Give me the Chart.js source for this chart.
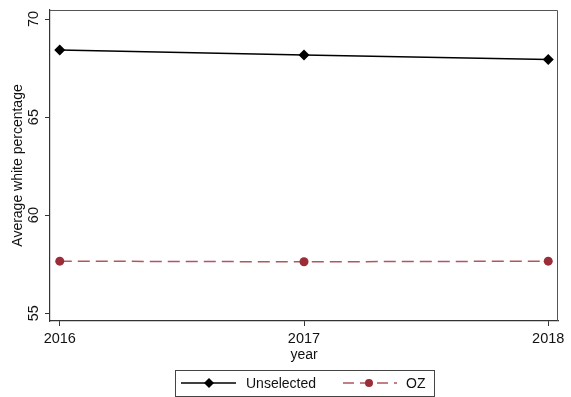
<!DOCTYPE html>
<html>
<head>
<meta charset="utf-8">
<script src="https://cdn.jsdelivr.net/npm/chart.js@4"></script>
<style>
  body { margin: 0; background: #fff; }
</style>
</head>
<body>
<canvas id="chart" width="571" height="397"></canvas>
<script>
const years      = [2016, 2017, 2018];
const unselected = [68.42, 68.17, 67.93];
const oz         = [57.65, 57.62, 57.65];
const yTicks     = [55, 60, 65, 70];
const seriesNames = ['Unselected', 'OZ'];

const FONT = '"Liberation Sans", Arial, Helvetica, sans-serif';
const OZ_MARK = '#9b2d38';
const OZ_LINE = '#b0565f';

// frame, rotated y labels, axis titles and the boxed legend (Stata look)
const stataBits = {
  id: 'stataBits',
  afterDraw(chart) {
    const { ctx, chartArea: a, scales } = chart;
    ctx.save();
    ctx.strokeStyle = '#555';
    ctx.lineWidth = 1;
    ctx.beginPath();
    ctx.moveTo(a.left, a.top + 0.5);
    ctx.lineTo(a.right - 0.5, a.top + 0.5);
    ctx.lineTo(a.right - 0.5, a.bottom);
    ctx.stroke();

    ctx.fillStyle = '#111';
    ctx.font = '14.5px ' + FONT;
    ctx.textAlign = 'center';
    ctx.textBaseline = 'middle';
    yTicks.forEach(v => {
      const y = scales.y.getPixelForValue(v);
      ctx.save();
      ctx.translate(34, y);
      ctx.rotate(-Math.PI / 2);
      ctx.fillText(String(v), 0, 0);
      ctx.restore();
    });

    ctx.font = '14px ' + FONT;
    ctx.save();
    ctx.translate(18, (a.top + a.bottom) / 2);
    ctx.rotate(-Math.PI / 2);
    ctx.fillText('Average white percentage', 0, 0);
    ctx.restore();

    ctx.fillText('year', (a.left + a.right) / 2, 355);

    // legend
    ctx.strokeStyle = '#444';
    ctx.strokeRect(175.5, 370.5, 259, 26);
    const ly = 383;
    ctx.lineWidth = 1.3;
    ctx.strokeStyle = '#000';
    ctx.beginPath(); ctx.moveTo(181, ly); ctx.lineTo(236, ly); ctx.stroke();
    ctx.fillStyle = '#000';
    ctx.beginPath();
    ctx.moveTo(209, ly - 5); ctx.lineTo(214, ly); ctx.lineTo(209, ly + 5); ctx.lineTo(204, ly);
    ctx.closePath(); ctx.fill();

    ctx.strokeStyle = OZ_LINE;
    ctx.setLineDash([11, 6]);
    ctx.beginPath(); ctx.moveTo(343, ly); ctx.lineTo(397, ly); ctx.stroke();
    ctx.setLineDash([]);
    ctx.fillStyle = OZ_MARK;
    ctx.beginPath(); ctx.arc(369, ly, 4, 0, Math.PI * 2); ctx.fill();

    ctx.fillStyle = '#111';
    ctx.textAlign = 'left';
    ctx.fillText(seriesNames[0], 246, ly + 1);
    ctx.fillText(seriesNames[1], 406, ly + 1);
    ctx.restore();
  }
};

new Chart(document.getElementById('chart'), {
  type: 'line',
  data: {
    datasets: [
      {
        label: seriesNames[0],
        data: years.map((x, i) => ({ x, y: unselected[i] })),
        borderColor: '#000',
        backgroundColor: '#000',
        borderWidth: 1.5,
        pointStyle: 'rectRot',
        pointRadius: 5.5,
        pointBorderWidth: 0
      },
      {
        label: seriesNames[1],
        data: years.map((x, i) => ({ x, y: oz[i] })),
        borderColor: OZ_LINE,
        backgroundColor: OZ_MARK,
        borderWidth: 1.5,
        borderDash: [12, 6],
        pointStyle: 'circle',
        pointRadius: 4.5,
        pointBorderWidth: 0
      }
    ]
  },
  options: {
    responsive: false,
    animation: false,
    layout: { padding: { left: 0, right: 13, top: 10, bottom: 0 } },
    plugins: { legend: { display: false }, tooltip: { enabled: false } },
    scales: {
      x: {
        type: 'linear',
        min: 2015.96,
        max: 2018.04,
        afterBuildTicks: s => { s.ticks = years.map(v => ({ value: v })); },
        afterFit: s => { s.height = 76; },
        grid: { drawOnChartArea: false, tickLength: 5, color: '#333' },
        border: { color: '#333', width: 1.2 },
        ticks: {
          color: '#111',
          font: { family: FONT, size: 14.5 },
          padding: 4,
          maxRotation: 0,
          callback: v => String(v)
        }
      },
      y: {
        min: 54.6,
        max: 70.46,
        afterBuildTicks: s => { s.ticks = yTicks.map(v => ({ value: v })); },
        afterFit: s => { s.width = 50; },
        grid: { drawOnChartArea: false, tickLength: 5, color: '#333' },
        border: { color: '#333', width: 1.2 },
        ticks: { display: false }
      }
    }
  },
  plugins: [stataBits]
});
</script>
</body>
</html>
